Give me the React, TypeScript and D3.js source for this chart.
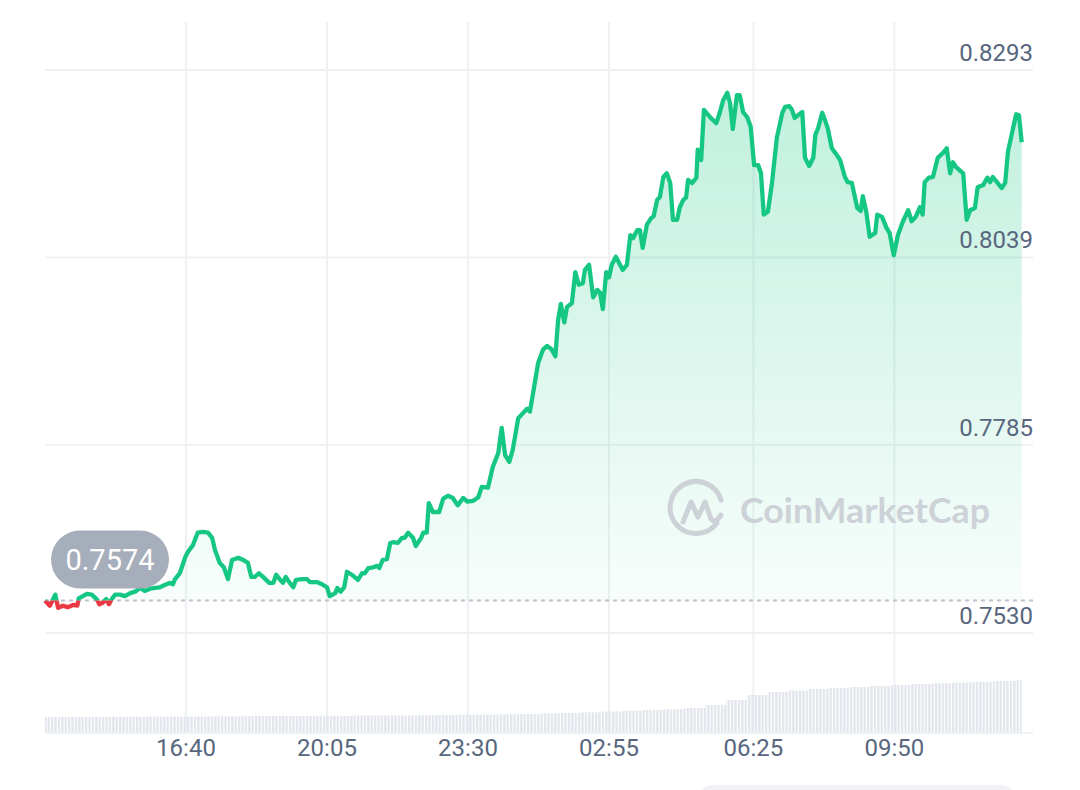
import React from 'react';
import * as d3 from 'd3';

// ---- data (minutes after 13:15 start, price in USD) ----
const startLabel = '13:15';
const minutes = [
  0,7,15,19,26,33,41,47,49,61,
  68,76,79,84,89,93,97,102,109,116,
  124,131,138,145,153,160,167,174,182,186,
  189,196,204,208,215,222,230,237,243,247,
  254,260,266,272,281,288,295,300,305,311,
  317,326,332,336,342,346,350,355,361,365,
  374,381,385,395,403,410,414,422,425,430,
  435,439,446,455,461,465,470,477,483,486,
  491,497,502,506,513,519,523,528,535,539,
  547,550,555,558,564,573,579,586,593,600,
  608,614,622,630,635,644,651,659,664,669,
  675,680,688,695,701,705,710,717,724,730,
  736,742,746,750,755,759,766,771,776,782,
  785,791,797,803,807,811,816,820,824,830,
  836,840,846,851,855,861,865,869,875,881,
  885,890,894,899,904,909,913,919,923,928,
  932,935,941,947,949,954,958,967,976,981,
  986,992,996,1000,1006,1010,1015,1021,1026,1031,
  1037,1041,1045,1051,1057,1064,1072,1076,1082,1086,
  1090,1095,1101,1105,1111,1117,1120,1124,1130,1134,
  1138,1144,1151,1156,1163,1167,1173,1181,1186,1189,
  1194,1199,1207,1210,1217,1223,1228,1234,1240,1247,
  1255,1260,1266,1272,1276,1279,1285,1291,1298,1306,
  1311,1316,1320,1324,1330,1335,1340,1345,1352,1356,
  1364,1370,1374,1378,1384,1391,1396,1400,1407,1412,1416,1420,
];
const prices = [
  0.7574,0.7567,0.7582,0.7564,0.7567,0.7565,0.7568,0.7567,0.7577,0.7583,
  0.7582,0.7575,0.7569,0.7571,0.7576,0.7569,0.7576,0.7582,0.7582,0.7580,
  0.7584,0.7586,0.7591,0.7587,0.7590,0.7591,0.7592,0.7595,0.7598,0.7596,
  0.7603,0.7611,0.7633,0.7640,0.7649,0.7666,0.7667,0.7666,0.7659,0.7643,
  0.7625,0.7619,0.7603,0.7629,0.7632,0.7629,0.7625,0.7606,0.7606,0.7611,
  0.7606,0.7598,0.7598,0.7609,0.7602,0.7598,0.7606,0.7599,0.7592,0.7602,
  0.7603,0.7603,0.7599,0.7599,0.7596,0.7592,0.7580,0.7584,0.7591,0.7586,
  0.7592,0.7613,0.7609,0.7602,0.7611,0.7611,0.7618,0.7619,0.7621,0.7618,
  0.7629,0.7630,0.7652,0.7653,0.7652,0.7659,0.7659,0.7666,0.7659,0.7648,
  0.7659,0.7666,0.7666,0.7706,0.7694,0.7694,0.7712,0.7716,0.7713,0.7703,
  0.7713,0.7708,0.7709,0.7714,0.7728,0.7727,0.7755,0.7774,0.7808,0.7771,
  0.7762,0.7778,0.7821,0.7828,0.7834,0.7830,0.7857,0.7896,0.7914,0.7919,
  0.7915,0.7905,0.7954,0.7976,0.7951,0.7972,0.7977,0.8019,0.8002,0.8004,
  0.8022,0.8029,0.7985,0.7995,0.7991,0.7969,0.8019,0.8012,0.8029,0.8040,
  0.8029,0.8022,0.8029,0.8069,0.8065,0.8076,0.8076,0.8052,0.8083,0.8092,
  0.8095,0.8117,0.8121,0.8148,0.8153,0.8140,0.8090,0.8090,0.8107,0.8117,
  0.8120,0.8144,0.8140,0.8147,0.8185,0.8171,0.8239,0.8229,0.8221,0.8235,
  0.8252,0.8262,0.8248,0.8213,0.8259,0.8259,0.8236,0.8229,0.8216,0.8164,
  0.8164,0.8153,0.8097,0.8101,0.8140,0.8201,0.8235,0.8243,0.8244,0.8239,
  0.8228,0.8232,0.8236,0.8174,0.8163,0.8174,0.8205,0.8214,0.8235,0.8225,
  0.8214,0.8187,0.8178,0.8171,0.8148,0.8141,0.8140,0.8106,0.8102,0.8122,
  0.8101,0.8067,0.8072,0.8097,0.8094,0.8080,0.8072,0.8042,0.8069,0.8087,
  0.8103,0.8088,0.8094,0.8107,0.8097,0.8141,0.8147,0.8148,0.8174,0.8181,
  0.8187,0.8153,0.8168,0.8162,0.8157,0.8153,0.8090,0.8103,0.8106,0.8134,
  0.8137,0.8147,0.8141,0.8148,0.8141,0.8133,0.8140,0.8182,0.8212,0.8233,0.8232,0.8195,
];
const openPrice = 0.7574;
const openLabel = '0.7574';
const priceTicks = [0.753, 0.7785, 0.8039, 0.8293];
const priceTickLabels = ['0.7530', '0.7785', '0.8039', '0.8293'];
const timeTickLabels = ['16:40', '20:05', '23:30', '02:55', '06:25', '09:50'];
// rolling volume, one value per 30 minutes (millions)
const volumes = [
  160,160,161,162,163,164,165,166,167,168,169,170,171,172,173,174,175,176,178,180,
  182,184,187,190,195,200,208,216,223,230,238,250,280,330,380,410,425,440,450,460,
  470,480,490,498,505,513,520,530,
];
const volumeStep = 30;

// ---- layout ----
const W = 1080, H = 790;
const left = 45, right = 1033;
const plotTop = 70, plotBottom = 633;
const axisY = 733;
const GREEN = '#16c784', RED = '#ea3943';
const GRID = '#eef1f4';
const TEXT = '#58667e';
const FONT = "Roboto, 'Noto Sans', Arial, sans-serif";

function toMinutes(label: string) {
  const [h, m] = label.split(':').map(Number);
  const [sh, sm] = startLabel.split(':').map(Number);
  return (((h * 60 + m) - (sh * 60 + sm)) % 1440 + 1440) % 1440;
}

export default function App() {
  const x = d3.scaleLinear().domain([0, 1440]).range([left, left + 1440 * 141 / 205]);
  const y = d3.scaleLinear().domain([priceTicks[0], priceTicks[priceTicks.length - 1]]).range([plotBottom, plotTop]);
  const vy = d3.scaleLinear().domain([0, d3.max(volumes)!]).range([axisY, 680]);

  const n = Math.min(minutes.length, prices.length);
  const data = d3.range(n).map(i => ({ m: minutes[i], p: prices[i] }));
  const baseY = y(openPrice);
  const lastM = minutes[n - 1];

  const line = d3.line<{ m: number; p: number }>().x(d => x(d.m)).y(d => y(d.p));
  const area = d3.area<{ m: number; p: number }>().x(d => x(d.m)).y0(baseY).y1(d => y(d.p));

  const volData = volumes.map((v, i) => ({ m: i * volumeStep, v }));
  volData.push({ m: lastM, v: volumes[volumes.length - 1] });
  const volArea = d3.area<{ m: number; v: number }>().x(d => x(d.m)).y0(axisY).y1(d => vy(d.v)).curve(d3.curveStepAfter);

  const bubbleCx = 110;
  const bubbleCy = baseY - 41;

  return (
    <svg width={W} height={H} style={{ position: 'absolute', left: 0, top: 0, background: '#fff', display: 'block' }}>
      <defs>
        <linearGradient id="gUp" gradientUnits="userSpaceOnUse" x1="0" y1={plotTop} x2="0" y2={baseY}>
          <stop offset="0" stopColor={GREEN} stopOpacity={0.28} />
          <stop offset="1" stopColor={GREEN} stopOpacity={0.03} />
        </linearGradient>
        <linearGradient id="gDown" gradientUnits="userSpaceOnUse" x1="0" y1={baseY} x2="0" y2={plotBottom}>
          <stop offset="0" stopColor={RED} stopOpacity={0.03} />
          <stop offset="1" stopColor={RED} stopOpacity={0.2} />
        </linearGradient>
        <clipPath id="above"><rect x={0} y={0} width={W} height={baseY} /></clipPath>
        <clipPath id="below"><rect x={0} y={baseY} width={W} height={H - baseY} /></clipPath>
        <pattern id="stripes" width={3.4} height={10} patternUnits="userSpaceOnUse">
          <rect x={0} y={0} width={2.3} height={10} fill="#e2e6ec" />
        </pattern>
      </defs>

      {/* horizontal grid */}
      {priceTicks.map((t, i) => (
        <line key={'h' + i} x1={left} x2={right} y1={y(t)} y2={y(t)} stroke={GRID} strokeWidth={2} />
      ))}
      {/* vertical grid */}
      {timeTickLabels.map((l, i) => (
        <line key={'v' + i} x1={x(toMinutes(l))} x2={x(toMinutes(l))} y1={22} y2={axisY} stroke={GRID} strokeWidth={2} />
      ))}

      {/* area fills */}
      <path d={area(data) || ''} fill="url(#gUp)" clipPath="url(#above)" />
      <path d={area(data) || ''} fill="url(#gDown)" clipPath="url(#below)" />

      {/* volume */}
      <path d={volArea(volData) || ''} fill="url(#stripes)" />
      <line x1={left} x2={right} y1={axisY} y2={axisY} stroke={GRID} strokeWidth={2} />

      {/* watermark */}
      <g>
        <path d="M 717 523 A 26 26 0 1 1 721 500" fill="none" stroke="#cdd1d8" strokeWidth={5} strokeLinecap="round" />
        <path d="M 683 522 L 691 502 L 698 517 L 705 502 L 711 519 Q 715 524 721 515" fill="none" stroke="#cdd1d8" strokeWidth={5} strokeLinecap="round" strokeLinejoin="round" />
        <text x={740} y={523} fontFamily="Lato, 'Noto Sans', sans-serif" fontWeight={700} fontSize={34} fill="#cdd1d8" textLength={250} lengthAdjust="spacingAndGlyphs">CoinMarketCap</text>
      </g>

      {/* open price dashed line */}
      <line x1={left} x2={right} y1={baseY} y2={baseY} stroke="#bfc4cc" strokeWidth={2} strokeDasharray="4 4" />

      {/* price line */}
      <path d={line(data) || ''} fill="none" stroke={GREEN} strokeWidth={4.3} strokeLinejoin="round" clipPath="url(#above)" />
      <path d={line(data) || ''} fill="none" stroke={RED} strokeWidth={4.3} strokeLinejoin="round" clipPath="url(#below)" />

      {/* y labels */}
      {priceTicks.map((t, i) => (
        <text key={'yl' + i} x={right} y={y(t) - 9} textAnchor="end" fontFamily={FONT} fontSize={24} fill={TEXT}>{priceTickLabels[i]}</text>
      ))}
      {/* x labels */}
      {timeTickLabels.map((l, i) => (
        <text key={'xl' + i} x={x(toMinutes(l))} y={756} textAnchor="middle" fontFamily={FONT} fontSize={24} fill={TEXT}>{l}</text>
      ))}

      {/* open price bubble */}
      <rect x={bubbleCx - 59} y={bubbleCy - 29} width={118} height={58} rx={29} fill="#a7aebb" />
      <text x={bubbleCx} y={bubbleCy + 10.5} textAnchor="middle" fontFamily={FONT} fontSize={29} fill="#fff">{openLabel}</text>

      {/* bottom-right panel edge */}
      <rect x={697} y={785} width={320} height={40} rx={16} fill="#f0f2f5" />
    </svg>
  );
}
